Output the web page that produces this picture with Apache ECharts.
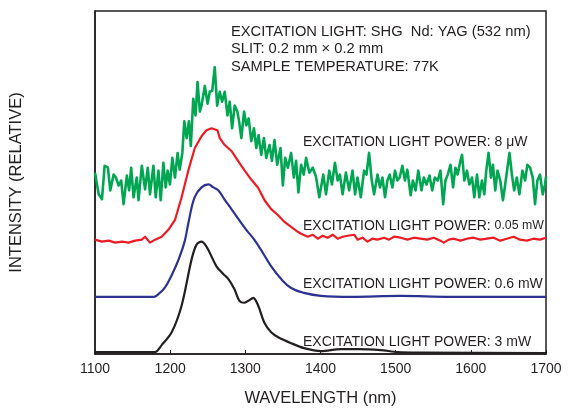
<!DOCTYPE html>
<html>
<head>
<meta charset="utf-8">
<script src="https://cdn.jsdelivr.net/npm/echarts@6/dist/echarts.min.js"></script>
<style>html,body{margin:0;padding:0;background:#fff}#c{width:569px;height:412px}</style>
</head>
<body>
<div id="c"></div>
<script>
// Wavelength ticks (nm)
const xTicks = [1100, 1200, 1300, 1400, 1500, 1600, 1700];

// 8 uW (green)
const wlGreen = [1100,1104.9,1109.3,1112.8,1117.2,1120.3,1124.8,1127.8,1131.4,1134.8,
1138.0,1142.4,1145.4,1148.1,1151.3,1155.6,1157.9,1162.3,1166.6,1170.2,
1173.2,1177.7,1180.8,1184.4,1187.4,1191.0,1194.0,1196.7,1199.7,1202.9,
1206.4,1209.9,1212.6,1216.2,1218.8,1221.9,1224.9,1227.5,1230.7,1233.8,
1236.4,1239.5,1241.7,1246.1,1249.7,1252.7,1255.9,1259.3,1262.5,1266.0,
1269.1,1272.6,1276.2,1279.2,1282.4,1285.8,1289.4,1291.7,1294.7,1298.3,
1301.3,1304.4,1307.9,1311.5,1314.6,1317.6,1321.2,1324.7,1327.8,1332.2,
1335.4,1338.8,1342.4,1346.8,1349.9,1353.0,1356.6,1360.9,1364.5,1367.5,
1370.6,1374.2,1377.7,1380.8,1385.2,1389.7,1394.0,1398.4,1403.7,1407.3,
1411.7,1415.2,1419.2,1422.8,1425.8,1429.4,1433.8,1438.1,1442.6,1446.0,
1449.2,1453.6,1458.0,1461.2,1464.6,1468.2,1471.3,1475.8,1479.2,1482.4,
1485.8,1489.0,1492.1,1495.6,1499.1,1502.3,1505.3,1508.9,1512.3,1515.5,
1519.9,1522.9,1526.5,1530.1,1534.4,1537.5,1541.1,1545.0,1548.6,1552.1,
1556.0,1559.6,1563.2,1566.2,1569.3,1572.9,1576.4,1579.5,1582.5,1586.1,
1588.3,1591.4,1594.9,1598.0,1601.6,1604.6,1608.2,1611.3,1614.8,1617.9,
1620.5,1623.6,1626.8,1629.4,1632.5,1635.5,1639.1,1642.7,1645.7,1651.4,
1654.6,1657.6,1661.2,1664.6,1668.6,1672.2,1675.2,1678.8,1682.4,1685.4,
1688.5,1692.1,1695.6,1698.7,1700];
const intGreen = [184,162,157,191,189,166,182,179,171,176,
152,181,166,189,159,179,156,191,167,189,
162,191,159,186,156,194,169,186,172,199,
179,204,187,204,236,219,236,211,259,242,
276,246,252,272,254,266,267,291,252,266,
256,266,242,256,229,252,246,236,219,246,
232,239,216,229,209,222,202,219,199,212,
196,217,192,209,171,199,189,204,179,196,
164,192,182,199,184,189,180,159,182,162,
186,172,194,176,182,162,184,166,186,162,
179,159,186,182,204,176,162,182,169,179,
159,176,182,169,186,176,179,191,176,187,
161,176,166,186,166,179,172,181,166,179,
176,186,152,176,182,192,169,189,182,196,
202,176,186,172,179,159,182,159,176,162,
186,204,179,192,166,186,176,156,172,204,
182,166,179,162,186,176,192,189,179,152,
176,182,162,172,180];

// 0.05 mW (red)
const wlRed = [1100,1109.3,1118.1,1126.9,1135.8,1144.6,1153.4,1162.3,1166.6,1173.2,
1179.9,1188.7,1197.6,1206.4,1215.2,1224.1,1232.8,1241.7,1248.3,1255.0,
1262.9,1266.0,1272.6,1281.5,1290.3,1299.1,1307.9,1316.8,1325.6,1334.4,
1343.3,1352.1,1360.9,1369.8,
1374.2,1383.0,1389.7,1396.3,1402.9,1409.5,1416.1,1422.8,1429.4,1436.0,
1444.8,1449.3,1455.9,1462.5,1469.1,1475.7,1484.6,1491.2,1497.8,1506.7,
1515.5,1524.3,1533.1,1542.0,1550.8,1559.6,1564.0,1570.7,1577.3,1586.1,
1595.0,1603.8,1612.6,1621.5,1630.3,1639.1,1647.9,1656.8,1665.6,1674.5,
1683.3,1692.1,1700];
const intRed = [116,114,115,113,114,113,115,116,119,113,
116,119,126,136,159,186,209,221,227,229,
227,219,212,206,196,186,177,169,156,147,
141,134,129,124,
122,119,121,117,120,118,121,117,119,120,
121,116,118,114,117,116,118,116,119,118,
116,118,117,116,118,115,113,116,117,115,
117,118,116,117,118,115,117,119,116,115,
117,116,118];

// 0.6 mW (blue)
const wlBlue = [1100,1178.1,1184.8,1192.7,1202.0,1211.3,1219.2,1224.5,1232.5,1241.7,
1251.0,1257.6,1264.2,1272.2,1281.5,1290.7,1301.3,1311.9,1323.8,1334.4,
1347.7,1360.9,1378.1,1400.7,1440.4,1506.6,1572.9,1700];
const intBlue = [58,58,61,67,80,96,114,134,159,169,
172,169,166,157,147,137,126,116,102,89,
76,67,62,59,58,59,58,58];

// 3 mW (black)
const wlBlack = [1100,1179.5,1188.7,1202.0,1215.2,1228.5,1235.1,1241.7,1248.3,1255.0,
1261.6,1270.9,1277.5,1285.4,1292.1,1298.7,1304.0,1310.6,1317.2,1325.2,
1334.4,1343.7,1360.9,1378.1,1400.7,1427.1,1449.7,1480.1,1502.6,1537.1,1700];
const intBlack = [2,2,9,22,49,96,111,114,109,99,
89,81,76,66,54,52,54,57,49,32,
22,17,11,6,3,5,5,4,2,1.5,1];

const headerLines = ['EXCITATION LIGHT: SHG  Nd: YAG (532 nm)', 'SLIT: 0.2 mm \u00d7 0.2 mm', 'SAMPLE TEMPERATURE: 77K'];
const powerLabels = ['EXCITATION LIGHT POWER: 8 \u03bcW', 'EXCITATION LIGHT POWER: ', '0.05 mW', 'EXCITATION LIGHT POWER: 0.6 mW', 'EXCITATION LIGHT POWER: 3 mW'];

const zip = (a, b) => a.map((v, i) => [v, b[i]]);
const FONT = '"Liberation Sans", Arial, Helvetica, sans-serif';
const TXT = '#231f20';

const chart = echarts.init(document.getElementById('c'), null, {renderer: 'canvas'});
function mkLine(data, color, width, smooth) {
  return {type: 'line', data, showSymbol: false, symbol: 'none', smooth: smooth,
    lineStyle: {color, width, join: 'round'}, animation: false, clip: true};
}
const txt = (left, top, text, size) => ({type: 'text', left, top,
  style: {text, font: size + 'px ' + FONT, fill: TXT}});
chart.setOption({
  animation: false,
  grid: {left: 93, right: 23, top: 11, bottom: 53, show: true, borderColor: TXT, borderWidth: 1.5, backgroundColor: 'transparent'},
  xAxis: {
    type: 'value', min: xTicks[0], max: xTicks[xTicks.length - 1], interval: 100,
    axisLine: {show: true, lineStyle: {color: TXT, width: 1.5}},
    axisTick: {show: true, inside: true, length: 4, lineStyle: {color: TXT, width: 1}},
    axisLabel: {color: TXT, fontSize: 14, fontFamily: FONT, margin: 8, formatter: v => String(v)},
    splitLine: {show: false},
    name: 'WAVELENGTH (nm)', nameLocation: 'middle', nameGap: 36,
    nameTextStyle: {color: TXT, fontSize: 16.5, fontFamily: FONT}
  },
  yAxis: {
    type: 'value', min: 0, max: 348,
    axisLine: {show: true, lineStyle: {color: TXT, width: 1.5}},
    axisTick: {show: false}, axisLabel: {show: false}, splitLine: {show: false},
    name: 'INTENSITY (RELATIVE)', nameLocation: 'middle', nameGap: 70, nameRotate: 90,
    nameTextStyle: {color: TXT, fontSize: 16.5, fontFamily: FONT}
  },
  series: [
    mkLine(zip(wlBlack, intBlack), '#231f20', 2.2, 0.3),
    mkLine(zip(wlBlue, intBlue), '#2e3192', 2.2, 0.4),
    mkLine(zip(wlRed, intRed), '#ed1c24', 2.2, false),
    mkLine(zip(wlGreen, intGreen), '#00a651', 2.6, false)
  ],
  graphic: [
    txt(231, 24, headerLines[0], 14.7),
    txt(231, 41, headerLines[1], 14.7),
    txt(231, 59, headerLines[2], 14.7),
    txt(303, 135, powerLabels[0], 14),
    {type: 'text', left: 303, top: 219, style: {
      text: '{a|' + powerLabels[1] + '}{b|' + powerLabels[2] + '}',
      rich: {a: {font: '14px ' + FONT, fill: TXT}, b: {font: '12.3px ' + FONT, fill: TXT}}, fill: TXT}},
    txt(303, 277, powerLabels[3], 14),
    txt(303, 335, powerLabels[4], 14)
  ]
});
</script>
</body>
</html>
